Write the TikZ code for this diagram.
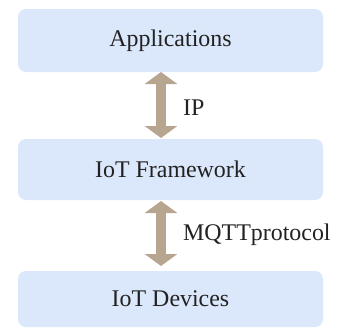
\documentclass[tikz,border=0pt]{standalone}
\usepackage{fontspec}
\setmainfont{Liberation Serif}
\usetikzlibrary{arrows.meta}
\definecolor{boxblue}{RGB}{219,231,250}
\definecolor{arrtan}{RGB}{184,165,143}
\definecolor{txt}{RGB}{34,34,34}
\begin{document}
\begin{tikzpicture}[x=1bp,y=-1bp,
  layer/.style={fill=boxblue, rounded corners=8bp, minimum width=305bp, inner sep=0pt,
    font=\fontsize{24}{28}\selectfont, text=txt},
  link/.style={draw=arrtan, line width=10bp,
    {Triangle[width=32bp,length=12bp]}-{Triangle[width=32bp,length=12bp]}},
  lbl/.style={anchor=west, inner sep=0pt, font=\fontsize{24}{28}\selectfont, text=txt}]
\useasboundingbox (0,0) rectangle (337,328);
\node[layer, minimum height=63bp] (app) at (170.5,40.5) {Applications};
\node[layer, minimum height=61bp] (fw) at (170.5,169.5) {IoT Framework};
\node[layer, minimum height=56bp] (dev) at (170.5,299) {IoT Devices};
\coordinate (a1) at (161,72);
\coordinate (a2) at (161,138);
\coordinate (b1) at (161,201);
\coordinate (b2) at (161,266);
\draw[link] (a1) -- (a2);
\draw[link] (b1) -- (b2);
\node[lbl] (ip) at (183,108) {IP};
\node[lbl] (mqtt) at (183,235) {MQTTprotocol};
\end{tikzpicture}
\end{document}
